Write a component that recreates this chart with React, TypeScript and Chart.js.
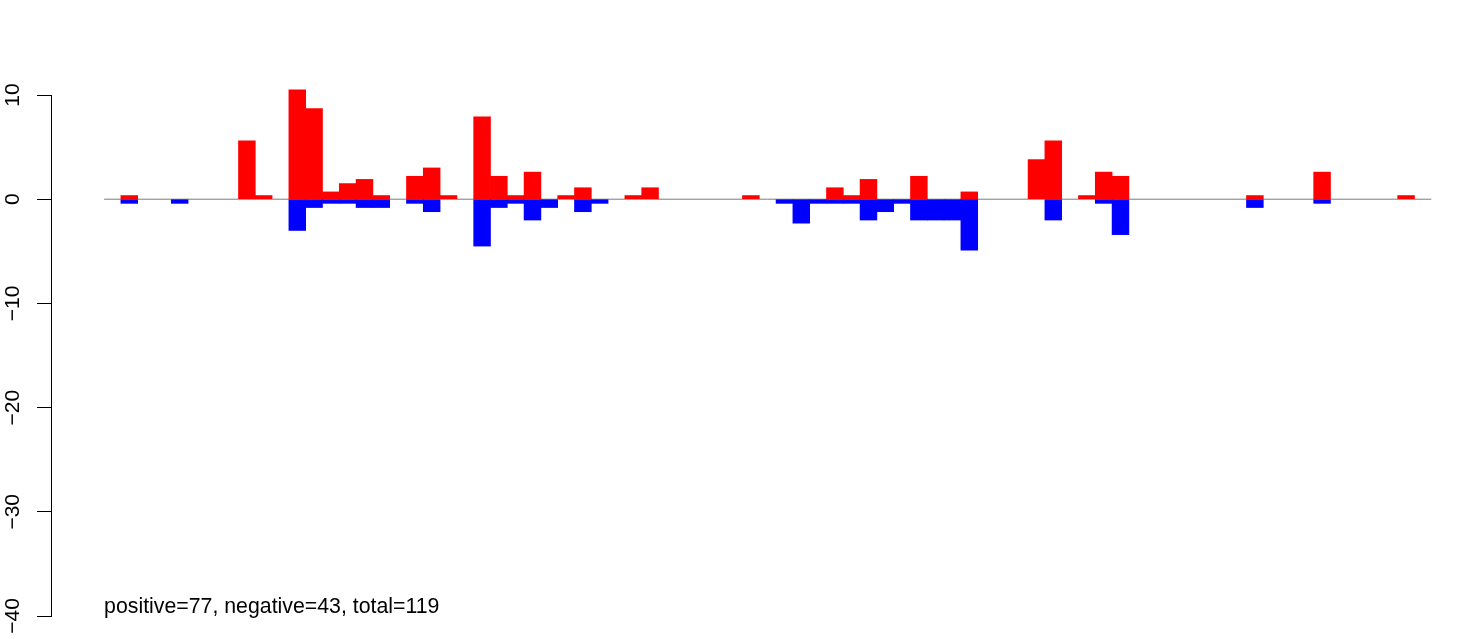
import React, { useEffect, useRef } from "react";
import { Chart, registerables } from "chart.js";

Chart.register(...registerables);

// slot indices (one bar column per slot)
const slots: number[] = [
  0, 1, 2, 3, 4, 5, 6, 7, 8, 9,
  10, 11, 12, 13, 14, 15, 16, 17, 18, 19,
  20, 21, 22, 23, 24, 25, 26, 27, 28, 29,
  30, 31, 32, 33, 34, 35, 36, 37, 38, 39,
  40, 41, 42, 43, 44, 45, 46, 47, 48, 49,
  50, 51, 52, 53, 54, 55, 56, 57, 58, 59,
  60, 61, 62, 63, 64, 65, 66, 67, 68, 69,
  70, 71, 72, 73, 74, 75, 76, 77, 78,
];

const positive: number[] = [
  0, 0.35, 0, 0, 0, 0, 0, 0, 5.6, 0.35,
  0, 10.5, 8.7, 0.7, 1.5, 1.9, 0.35, 0, 2.2, 3.0,
  0.35, 0, 7.9, 2.2, 0.35, 2.6, 0, 0.35, 1.1, 0,
  0, 0.35, 1.1, 0, 0, 0, 0, 0, 0.35, 0,
  0, 0, 0, 1.1, 0.35, 1.9, 0, 0, 2.2, 0,
  0, 0.7, 0, 0, 0, 3.8, 5.6, 0, 0.35, 2.6,
  2.2, 0, 0, 0, 0, 0, 0, 0, 0.35, 0,
  0, 0, 2.6, 0, 0, 0, 0, 0.35, 0,
];

const negative: number[] = [
  0, -0.4, 0, 0, -0.4, 0, 0, 0, 0, 0,
  0, -3.0, -0.8, -0.4, -0.4, -0.8, -0.8, 0, -0.4, -1.2,
  0, 0, -4.5, -0.8, -0.4, -2.0, -0.8, 0, -1.2, -0.4,
  0, 0, 0, 0, 0, 0, 0, 0, 0, 0,
  -0.4, -2.3, -0.4, -0.4, -0.4, -2.0, -1.2, -0.4, -2.0, -2.0,
  -2.0, -4.9, 0, 0, 0, 0, -2.0, 0, 0, -0.4,
  -3.4, 0, 0, 0, 0, 0, 0, 0, -0.8, 0,
  0, 0, -0.4, 0, 0, 0, 0, 0, 0,
];

const yTickValues: number[] = [10, 0, -10, -20, -30, -40];
const yTickLabels: string[] = ["10", "0", "\u221210", "\u221220", "\u221230", "\u221240"];
const summaryText = "positive=77, negative=43, total=119";

const FONT = "'Liberation Sans', Arial, Helvetica, sans-serif";

export default function App() {
  const canvasRef = useRef<HTMLCanvasElement | null>(null);

  useEffect(() => {
    document.body.style.margin = "0";
    const canvas = canvasRef.current;
    if (!canvas) return;

    const n = slots.length;
    const xMin = -0.04 * n;
    const slotPx = 16.8;
    const xMax = xMin + (1460 - 51) / slotPx;

    const labelsPlugin = {
      id: "rLabels",
      afterDraw(chart: any) {
        const ctx = chart.ctx;
        const ys = chart.scales.y;
        const xs = chart.scales.x;
        ctx.save();
        ctx.fillStyle = "#000";
        ctx.font = `21px ${FONT}`;
        ctx.textAlign = "center";
        ctx.textBaseline = "alphabetic";
        yTickValues.forEach((v, i) => {
          const y = ys.getPixelForValue(v);
          ctx.save();
          ctx.translate(19, y);
          ctx.rotate(-Math.PI / 2);
          ctx.fillText(yTickLabels[i], 0, 0);
          ctx.restore();
        });
        ctx.textAlign = "left";
        ctx.font = `21.3px ${FONT}`;
        ctx.fillText(summaryText, xs.getPixelForValue(0), 613);
        ctx.restore();
      },
    };

    const toPoints = (vals: number[]) =>
      slots.map((s, i) => ({ x: s + 0.5, y: vals[i] === 0 ? null : vals[i] }));

    const chart = new Chart(canvas, {
      type: "bar",
      data: {
        datasets: [
          {
            type: "line",
            label: "zero",
            data: [
              { x: 0, y: 0 },
              { x: n, y: 0 },
            ],
            borderColor: "#7a7a7a",
            borderWidth: 1,
            pointRadius: 0,
            order: 5,
          } as any,
          {
            label: "positive",
            data: toPoints(positive),
            backgroundColor: "#FF0000",
            borderWidth: 0,
            grouped: false,
            barPercentage: 1,
            categoryPercentage: 1,
            clip: false,
            order: 1,
          } as any,
          {
            label: "negative",
            data: toPoints(negative),
            backgroundColor: "#0000FF",
            borderWidth: 0,
            grouped: false,
            barPercentage: 1,
            categoryPercentage: 1,
            clip: false,
            order: 2,
          } as any,
        ],
      },
      options: {
        animation: false,
        responsive: false,
        maintainAspectRatio: false,
        layout: { padding: { top: 95, bottom: 23, left: 0, right: 0 } },
        plugins: {
          legend: { display: false },
          tooltip: { enabled: false },
          title: { display: false },
        },
        scales: {
          x: {
            type: "linear",
            min: xMin,
            max: xMax,
            offset: false,
            bounds: "ticks",
            grace: 0,
            display: false,
            afterDataLimits: (scale: any) => {
              scale.min = xMin;
              scale.max = xMax;
            },
          },
          y: {
            type: "linear",
            position: "left",
            min: -40,
            max: 10,
            ticks: { stepSize: 10, display: false },
            grid: {
              display: true,
              drawOnChartArea: false,
              drawTicks: true,
              tickLength: 14,
              color: "#000",
              lineWidth: 1,
            },
            border: { display: true, color: "#000", width: 1 },
            afterFit: (scale: any) => {
              scale.width = 51;
            },
          },
        },
      },
      plugins: [labelsPlugin],
    });

    return () => chart.destroy();
  }, []);

  return (
    <div style={{ width: 1460, height: 639, position: "relative" }}>
      <canvas ref={canvasRef} width={1460} height={639} style={{ display: "block" }} />
    </div>
  );
}
